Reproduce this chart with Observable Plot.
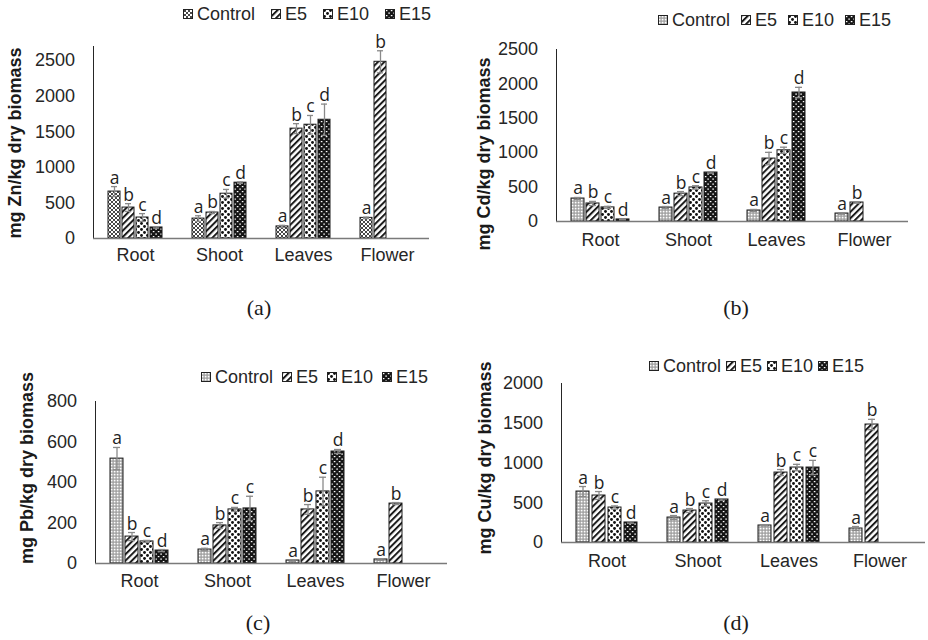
<!DOCTYPE html>
<html><head><meta charset="utf-8">
<script src="https://cdn.jsdelivr.net/npm/d3@7"></script>
<script src="https://cdn.jsdelivr.net/npm/@observablehq/plot@0.6"></script>
<style>
body{margin:0;width:928px;height:640px;background:#fff;position:relative;overflow:hidden;font-family:"Liberation Sans",Arial,sans-serif;color:#262626}
.chart{position:absolute}
.legend{position:absolute;display:flex;align-items:center;font-size:18px;white-space:nowrap;line-height:20px;transform:translateY(-50%)}
.legend .item{display:flex;align-items:center}
.legend .item svg{display:block}
.ylab{position:absolute;left:0;top:0;font-weight:bold;font-size:18px;white-space:nowrap;transform:translate(-50%,-50%) rotate(-90deg);color:#1a1a1a}
.cap{position:absolute;font-family:"Liberation Serif","Times New Roman",serif;font-size:22px;transform:translate(-50%,-50%);color:#1a1a1a}
</style></head><body>
<svg width="0" height="0" style="position:absolute;left:0;top:0">
<defs>
<pattern id="p-cross" patternUnits="userSpaceOnUse" width="4" height="4">
  <rect width="4" height="4" fill="#fff"/>
  <path d="M0,0L4,4M4,0L0,4" stroke="#333" stroke-width="0.9"/>
</pattern>
<pattern id="p-grid" patternUnits="userSpaceOnUse" width="3" height="3">
  <rect width="3" height="3" fill="#9a9a9a"/>
  <rect x="0.7" y="0.7" width="1.8" height="1.8" fill="#fff"/>
</pattern>
<pattern id="p-e5" patternUnits="userSpaceOnUse" width="4.5" height="4.5" patternTransform="rotate(45)">
  <rect width="4.5" height="4.5" fill="#fff"/>
  <rect width="2" height="4.5" fill="#1a1a1a"/>
</pattern>
<pattern id="p-e10" patternUnits="userSpaceOnUse" width="6" height="6">
  <rect width="6" height="6" fill="#fff"/>
  <circle cx="1.5" cy="1.5" r="1.45" fill="#111"/>
  <circle cx="4.5" cy="4.5" r="1.45" fill="#111"/>
</pattern>
<pattern id="p-e15" patternUnits="userSpaceOnUse" width="5" height="5">
  <rect width="5" height="5" fill="#151515"/>
  <rect x="0.8" y="1" width="1.6" height="1.2" fill="#fff"/>
  <rect x="3.3" y="3.5" width="1.6" height="1.2" fill="#fff"/>
</pattern>
</defs></svg>
<script>
// ---------- data ----------
const categories = ["Root", "Shoot", "Leaves", "Flower"];
const series = ["Control", "E5", "E10", "E15"];

// (a) Zn
const znLabel = "mg Zn/kg dry biomass";
const znTicks = [0, 500, 1000, 1500, 2000, 2500];
const znValues = [[660, 435, 295, 155], [280, 365, 630, 785], [170, 1545, 1600, 1670], [290, 2485, null, null]];
const znErrors = [[70, 55, 55, 10], [40, 15, 60, 10], [15, 70, 130, 220], [10, 155, null, null]];
const znLetters = [["a", "b", "c", "d"], ["a", "b", "c", "d"], ["a", "b", "c", "d"], ["a", "b", null, null]];

// (b) Cd
const cdLabel = "mg Cd/kg dry biomass";
const cdTicks = [0, 500, 1000, 1500, 2000, 2500];
const cdValues = [[334, 262, 205, 30], [203, 405, 495, 712], [160, 915, 1035, 1875], [116, 276, null, null]];
const cdErrors = [[15, 30, 15, 5], [15, 30, 25, 10], [15, 90, 45, 75], [10, 10, null, null]];
const cdLetters = [["a", "b", "c", "d"], ["a", "b", "c", "d"], ["a", "b", "c", "d"], ["a", "b", null, null]];

// (c) Pb
const pbLabel = "mg Pb/kg dry biomass";
const pbTicks = [0, 200, 400, 600, 800];
const pbValues = [[518, 133, 109, 64], [69, 188, 267, 272], [15, 267, 356, 553], [20, 296, null, null]];
const pbErrors = [[55, 20, 5, 5], [6, 14, 10, 60], [4, 24, 70, 10], [4, 5, null, null]];
const pbLetters = [["a", "b", "c", "d"], ["a", "b", "c", "c"], ["a", "b", "c", "d"], ["a", "b", null, null]];

// (d) Cu
const cuLabel = "mg Cu/kg dry biomass";
const cuTicks = [0, 500, 1000, 1500, 2000];
const cuValues = [[641, 591, 440, 252], [314, 402, 490, 541], [214, 880, 943, 943], [176, 1484, null, null]];
const cuErrors = [[63, 50, 20, 10], [25, 25, 35, 10], [5, 38, 40, 90], [25, 65, null, null]];
const cuLetters = [["a", "b", "c", "d"], ["a", "b", "c", "d"], ["a", "b", "c", "c"], ["a", "b", null, null]];

const panelTags = ["(a)", "(b)", "(c)", "(d)"];

// ---------- layout ----------
const panels = [
  {tag: panelTags[0], label: znLabel, ticks: znTicks, values: znValues, errors: znErrors, letters: znLetters, ymax: 2700,
   ctrl: "url(#p-cross)", left: 0, top: 0, mL: 91, mR: 34, mT: 46, mB: 52, pi: 0.133, po: 0.892, fxPad: 10,
   legend: [183, 14, 16], ylab: [15, 143], cap: [259, 308]},
  {tag: panelTags[1], label: cdLabel, ticks: cdTicks, values: cdValues, errors: cdErrors, letters: cdLetters, ymax: 2500,
   ctrl: "url(#p-grid)", left: 464, top: 0, mL: 90, mR: 19, mT: 49, mB: 69, pi: 0.16, po: 0.853, fxPad: 12,
   legend: [658, 20, 11], ylab: [484, 154], cap: [736, 308]},
  {tag: panelTags[2], label: pbLabel, ticks: pbTicks, values: pbValues, errors: pbErrors, letters: pbLetters, ymax: 800,
   ctrl: "url(#p-grid)", left: 0, top: 320, mL: 93, mR: 16, mT: 81, mB: 47, pi: 0.16, po: 0.853, fxPad: 11,
   legend: [201, 377, 9], ylab: [27, 468], cap: [258, 623]},
  {tag: panelTags[3], label: cuLabel, ticks: cuTicks, values: cuValues, errors: cuErrors, letters: cuLetters, ymax: 2000,
   ctrl: "url(#p-grid)", left: 464, top: 320, mL: 95, mR: 2, mT: 63, mB: 68, pi: 0.18, po: 0.87, fxPad: 12,
   legend: [649, 366, 5], ylab: [485, 458], cap: [736, 623]}
];

const overlays = [];
for (const p of panels) {
  const fills = {Control: p.ctrl, E5: "url(#p-e5)", E10: "url(#p-e10)", E15: "url(#p-e15)"};
  const rows = [];
  categories.forEach((c, i) => series.forEach((s, j) => {
    const v = p.values[i][j];
    if (v == null) return;
    rows.push({category: c, series: s, value: v, err: p.errors[i][j], letter: p.letters[i][j]});
  }));
  const errStroke = "#8a8a8a";
  const chart = Plot.plot({
    width: 464, height: 290,
    marginLeft: p.mL, marginRight: p.mR, marginTop: p.mT, marginBottom: p.mB,
    style: {fontSize: "18px", fontFamily: "'Liberation Sans', Arial, sans-serif", color: "#262626", background: "transparent"},
    fx: {domain: categories, padding: 0, axis: "bottom", tickSize: 0, tickPadding: p.fxPad, label: null},
    x: {domain: series, paddingInner: p.pi, paddingOuter: p.po, axis: null},
    y: {domain: [0, p.ymax], ticks: p.ticks, tickFormat: d => String(d), tickSize: 0, tickPadding: 18.5, label: null, line: true},
    color: {type: "identity"},
    marks: [
      Plot.barY(rows, {fx: "category", x: "series", y: "value", fill: d => fills[d.series], stroke: "#1a1a1a", strokeWidth: 1}),
      Plot.ruleX(rows, {fx: "category", x: "series", y1: d => Math.max(0, d.value - d.err), y2: d => d.value + d.err, stroke: errStroke, strokeWidth: 1.3}),
      Plot.tickY(rows, {fx: "category", x: "series", y: d => d.value + d.err, stroke: errStroke, strokeWidth: 1.3, insetLeft: 3, insetRight: 3}),
      Plot.tickY(rows, {fx: "category", x: "series", y: d => Math.max(0, d.value - d.err), stroke: errStroke, strokeWidth: 1.3, insetLeft: 3, insetRight: 3}),
      Plot.ruleY([0], {stroke: "#7a7a7a", strokeWidth: 1.3}),
      Plot.text(rows, {fx: "category", x: "series", y: d => d.value + d.err, text: "letter", lineAnchor: "bottom", dy: -3,
        fontFamily: "'Open Sans', 'Noto Sans', sans-serif", fontSize: 17.5, fill: "#1f1f1f"})
    ]
  });
  chart.classList.add("chart");
  chart.style.left = p.left + "px";
  chart.style.top = p.top + "px";
  document.body.appendChild(chart);

  // legend
  const lg = document.createElement("div");
  lg.className = "legend";
  lg.style.left = p.legend[0] + "px";
  lg.style.top = p.legend[1] + "px";
  lg.style.gap = p.legend[2] + "px";
  for (const s of series) {
    const it = document.createElement("div");
    it.className = "item";
    it.innerHTML = `<svg width="10" height="10" style="margin-right:4px"><rect x="0.5" y="0.5" width="9" height="9" fill="${fills[s]}" stroke="#222"/></svg><span>${s}</span>`;
    lg.appendChild(it);
  }
  overlays.push(lg);

  const yl = document.createElement("div");
  yl.className = "ylab";
  yl.textContent = p.label;
  yl.style.left = p.ylab[0] + "px";
  yl.style.top = p.ylab[1] + "px";
  overlays.push(yl);

  const cp = document.createElement("div");
  cp.className = "cap";
  cp.textContent = p.tag;
  cp.style.left = p.cap[0] + "px";
  cp.style.top = p.cap[1] + "px";
  overlays.push(cp);
}
overlays.forEach(o => document.body.appendChild(o));
</script>
</body></html>
